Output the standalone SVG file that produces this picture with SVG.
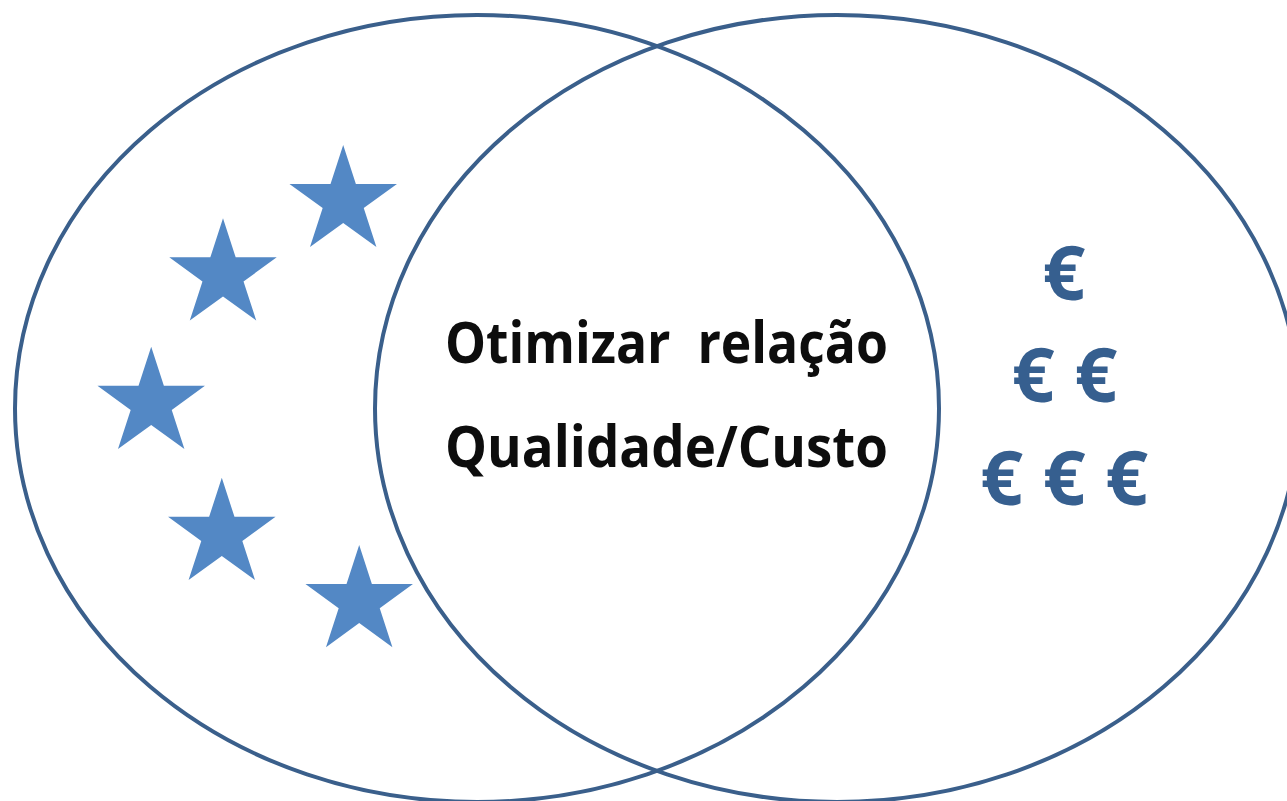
<svg xmlns="http://www.w3.org/2000/svg" width="1287" height="801" viewBox="0 0 1287 801">
<style>
.ring{fill:none;stroke:#3A5F8B;stroke-width:4}
.star{fill:#5388C5}
.lbl{font-family:"Open Sans","Liberation Sans",sans-serif;font-weight:bold;font-size:57px;fill:#0D0D0D;font-variant-ligatures:none}
.eur{font-family:"Open Sans","Liberation Sans",sans-serif;font-weight:bold;font-size:75px;fill:#365F8F;text-anchor:middle}
</style>
<defs>
<polygon id="star" points="0,-56.5 12.68,-17.46 53.74,-17.46 20.53,6.67 33.21,45.71 0,21.58 -33.21,45.71 -20.53,6.67 -53.74,-17.46 -12.68,-17.46"/>
</defs>
<g id="quality">
<ellipse class="ring" cx="477" cy="408.5" rx="462" ry="393.5"/>
<use href="#star" class="star" x="343.2" y="201.4"/>
<use href="#star" class="star" x="223" y="274.8"/>
<use href="#star" class="star" x="151.2" y="403.3"/>
<use href="#star" class="star" x="221.8" y="534.3"/>
<use href="#star" class="star" x="359.2" y="601.5"/>
</g>
<g id="cost">
<ellipse class="ring" cx="837" cy="408.5" rx="462" ry="393.5"/>
<text class="eur" x="1064" y="300">€</text>
<text class="eur" x="1033.3 1064.6 1096" y="402">€ €</text>
<text class="eur" x="1001.7 1033 1064.2 1095.5 1126.7" y="505">€ € €</text>
</g>
<g id="intersection">
<text class="lbl" x="445" y="363" xml:space="preserve" textLength="443" lengthAdjust="spacingAndGlyphs">Otimizar  relação</text>
<text class="lbl" x="445" y="467" textLength="443" lengthAdjust="spacingAndGlyphs">Qualidade/Custo</text>
</g>
<g id="connectors"/>
</svg>
